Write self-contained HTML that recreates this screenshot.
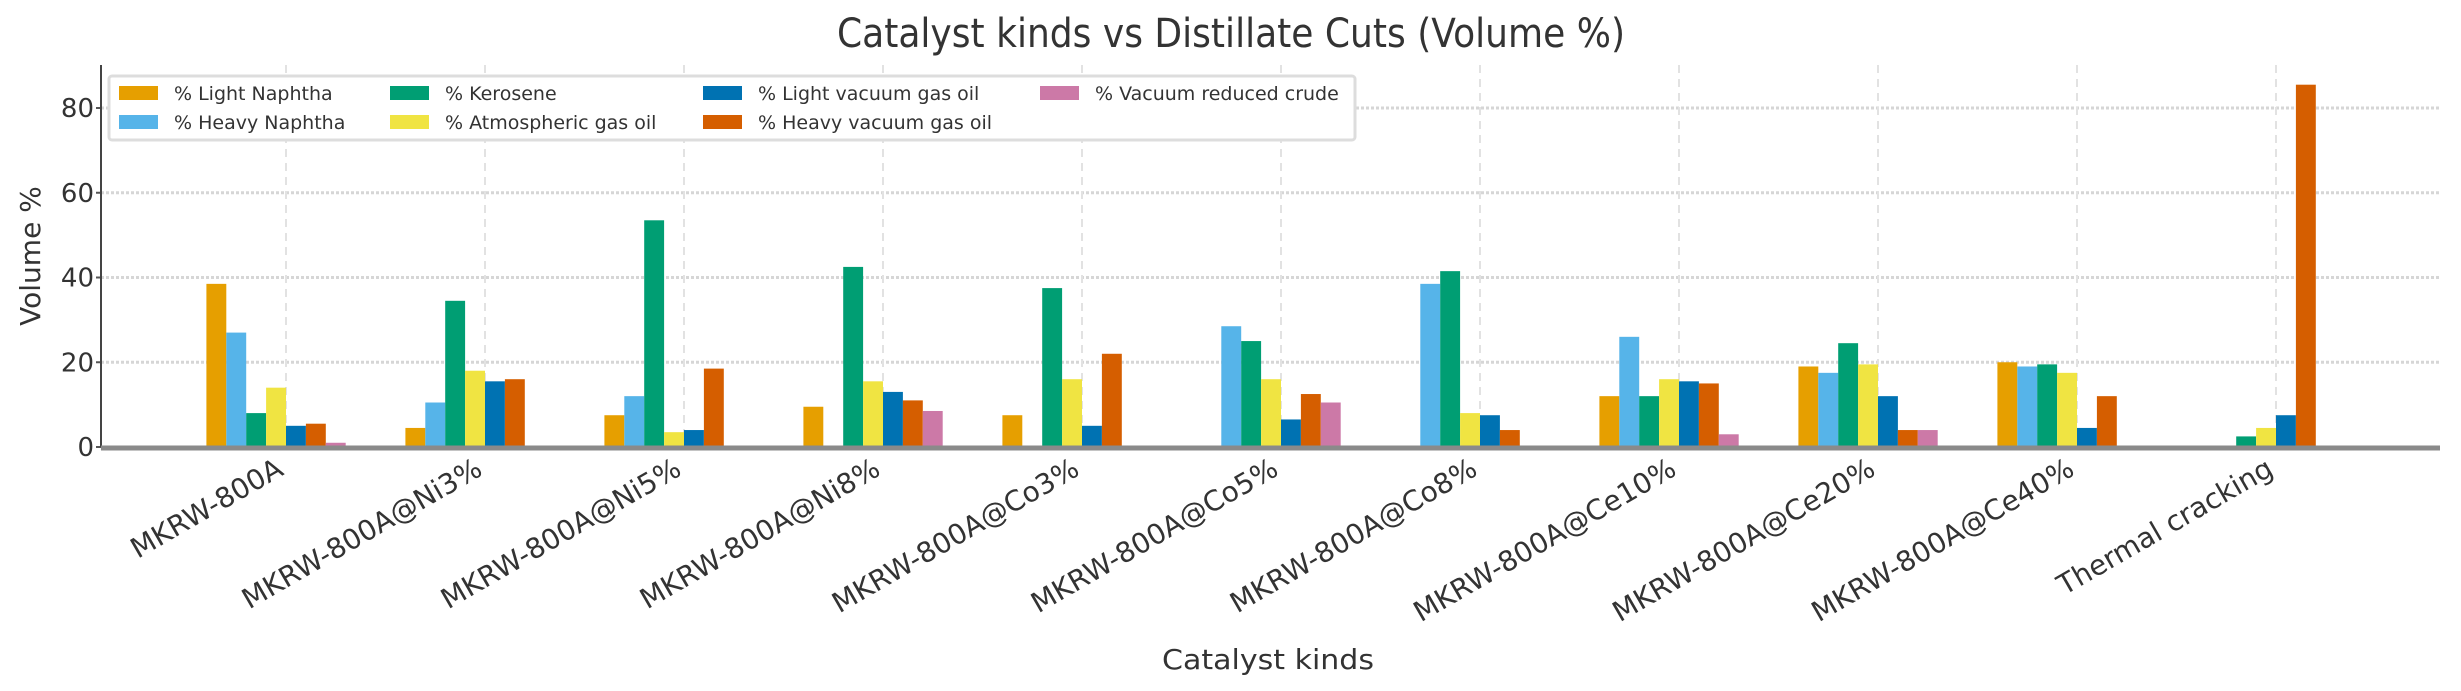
<!DOCTYPE html>
<html><head><meta charset="utf-8"><style>
html,body{margin:0;padding:0;background:#fff;}
svg{display:block;font-family:"DejaVu Sans","Liberation Sans",sans-serif;}
</style></head><body>
<svg id="chart" width="2461" height="691" viewBox="0 0 2461 691" xmlns="http://www.w3.org/2000/svg">
<rect width="2461" height="691" fill="#fff"/>
<text x="1231" y="47" font-size="40" text-anchor="middle" fill="#333" textLength="788" lengthAdjust="spacingAndGlyphs">Catalyst kinds vs Distillate Cuts (Volume %)</text>
<g id="grid"></g>
<g id="bars"></g>
<g id="axes"></g>
<g id="legend"></g>
<text transform="translate(40,256) rotate(-90)" font-size="28" text-anchor="middle" fill="#333">Volume %</text>
<text x="1268" y="669" font-size="28" text-anchor="middle" fill="#333" textLength="212" lengthAdjust="spacingAndGlyphs">Catalyst kinds</text>
</svg>
<script>
const categories = ["MKRW-800A","MKRW-800A@Ni3%","MKRW-800A@Ni5%","MKRW-800A@Ni8%","MKRW-800A@Co3%","MKRW-800A@Co5%","MKRW-800A@Co8%","MKRW-800A@Ce10%","MKRW-800A@Ce20%","MKRW-800A@Ce40%","Thermal cracking"];
const seriesNames = ["% Light Naphtha","% Heavy Naphtha","% Kerosene","% Atmospheric gas oil","% Light vacuum gas oil","% Heavy vacuum gas oil","% Vacuum reduced crude"];
const lightNaphtha = [38.5,4.5,7.5,9.5,7.5,0,0,12,19,20,0];
const heavyNaphtha = [27,10.5,12,0,0,28.5,38.5,26,17.5,19,0];
const kerosene = [8,34.5,53.5,42.5,37.5,25,41.5,12,24.5,19.5,2.5];
const atmGasOil = [14,18,3.5,15.5,16,16,8,16,19.5,17.5,4.5];
const lightVGO = [5,15.5,4,13,5,6.5,7.5,15.5,12,4.5,7.5];
const heavyVGO = [5.5,16,18.5,11,22,12.5,4,15,4,12,85.5];
const vacReduced = [1,0,0,8.5,0,10.5,0,3,4,0,0];
const yTicks = [0,20,40,60,80];
const colors = ["#E69F00","#56B4E9","#009E73","#F0E442","#0072B2","#D55E00","#CC79A7"];
const series = [lightNaphtha,heavyNaphtha,kerosene,atmGasOil,lightVGO,heavyVGO,vacReduced];

const NS="http://www.w3.org/2000/svg";
const X0=286, STEP=199, BW=19.9, Y0=447, PPU=4.2375;
const plotL=101, plotR=2440, plotT=65;
const xs=i=>X0+i*STEP;
const ys=v=>Y0-v*PPU;
function mk(tag,attrs,parent){const e=document.createElementNS(NS,tag);for(const k in attrs)e.setAttribute(k,attrs[k]);parent.appendChild(e);return e;}
const grid=document.getElementById('grid'),bars=document.getElementById('bars'),axes=document.getElementById('axes'),leg=document.getElementById('legend');

yTicks.forEach(t=>{
  if(t>0){const l=mk('line',{x1:plotL,x2:plotR,y1:ys(t),y2:ys(t),stroke:'#d6d6d6','stroke-width':3,'stroke-dasharray':'3,2'},grid);
  
  }
  const tl=mk('text',{x:94,y:ys(t)+9,'font-size':26,'text-anchor':'end',fill:'#333'},axes);
  tl.textContent=t;
  
  
  mk('line',{x1:96,x2:101,y1:ys(t),y2:ys(t),stroke:'#555','stroke-width':2},axes);
});
categories.forEach((c,i)=>{
  const l=mk('line',{x1:xs(i),x2:xs(i),y1:plotT,y2:Y0,stroke:'#e2e2e2','stroke-width':2,'stroke-dasharray':'8,6'},grid);
  
  
  const tx=xs(i)-1, ty=474;
  const t=mk('text',{x:tx,y:ty,'font-size':28,'text-anchor':'end',fill:'#333',transform:`rotate(-30 ${tx} ${ty})`},axes);
  t.textContent=c;
  
  
});
series.forEach((arr,s)=>{
  arr.forEach((v,i)=>{
    if(v<=0)return;
    const cx=xs(i)+(s-3.5)*BW;
    const r=mk('rect',{x:cx-BW/2,y:ys(v),width:BW,height:v*PPU,fill:colors[s]},bars);
    
    
  });
});
mk('line',{x1:plotL,x2:plotL,y1:plotT,y2:Y0,stroke:'#444','stroke-width':2},axes);
const xa=mk('line',{x1:plotL,x2:plotR,y1:Y0+1,y2:Y0+1,stroke:'#8a8a8a','stroke-width':5},axes);



const lb=mk('rect',{x:109,y:76,width:1246,height:64,fill:'#fff',stroke:'#ddd','stroke-width':3,rx:3},leg);


const colX=[119,390,703,1040];
seriesNames.forEach((n,s)=>{
  const col=Math.floor(s/2), row=s%2;
  let c=col,r=row;
  if(s===6){c=3;r=0;}
  const y=r===0?93:122;
  const g=mk('g',{},leg);
  
  
  mk('rect',{x:colX[c],y:y-7,width:39,height:14,fill:colors[s]},g);
  const t=mk('text',{x:colX[c]+55,y:y+7,'font-size':19,fill:'#333'},g);
  t.textContent=n;
});
</script>
</body></html>
